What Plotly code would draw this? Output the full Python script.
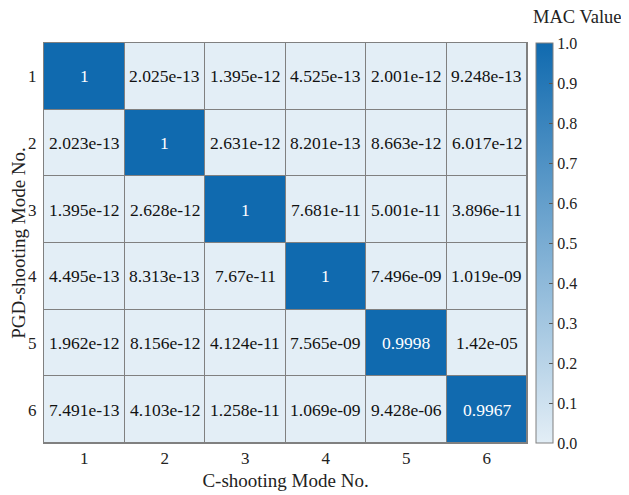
import plotly.graph_objects as go

modes = [1, 2, 3, 4, 5, 6]
mac_values = [
    [1, 2.025e-13, 1.395e-12, 4.525e-13, 2.001e-12, 9.248e-13],
    [2.023e-13, 1, 2.631e-12, 8.201e-13, 8.663e-12, 6.017e-12],
    [1.395e-12, 2.628e-12, 1, 7.681e-11, 5.001e-11, 3.896e-11],
    [4.495e-13, 8.313e-13, 7.67e-11, 1, 7.496e-09, 1.019e-09],
    [1.962e-12, 8.156e-12, 4.124e-11, 7.565e-09, 0.9998, 1.42e-05],
    [7.491e-13, 4.103e-12, 1.258e-11, 1.069e-09, 9.428e-06, 0.9967],
]
cell_labels = [
    ["1", "2.025e-13", "1.395e-12", "4.525e-13", "2.001e-12", "9.248e-13"],
    ["2.023e-13", "1", "2.631e-12", "8.201e-13", "8.663e-12", "6.017e-12"],
    ["1.395e-12", "2.628e-12", "1", "7.681e-11", "5.001e-11", "3.896e-11"],
    ["4.495e-13", "8.313e-13", "7.67e-11", "1", "7.496e-09", "1.019e-09"],
    ["1.962e-12", "8.156e-12", "4.124e-11", "7.565e-09", "0.9998", "1.42e-05"],
    ["7.491e-13", "4.103e-12", "1.258e-11", "1.069e-09", "9.428e-06", "0.9967"],
]
cbar_ticks = [0, 0.1, 0.2, 0.3, 0.4, 0.5, 0.6, 0.7, 0.8, 0.9, 1.0]
cbar_ticktext = ["0.0", "0.1", "0.2", "0.3", "0.4", "0.5", "0.6", "0.7", "0.8", "0.9", "1.0"]

FONT = "Liberation Serif, Times New Roman, serif"

fig = go.Figure()
fig.add_trace(go.Heatmap(
    z=mac_values, x=modes, y=modes,
    zmin=0, zmax=1,
    colorscale=[[0, "rgb(227,238,246)"], [1, "rgb(16,106,175)"]],
    xgap=1, ygap=1,
    showscale=True,
    hoverinfo="skip",
    colorbar=dict(
        x=1.0186, xanchor="left", xref="paper",
        y=0, yanchor="bottom", len=1, lenmode="fraction",
        thickness=17, thicknessmode="pixels",
        outlinecolor="#808080", outlinewidth=1,
        tickmode="array", tickvals=cbar_ticks, ticktext=cbar_ticktext,
        ticks="inside", ticklen=4, tickcolor="#555",
        tickfont=dict(family=FONT, size=16, color="#222"),
        ypad=0, xpad=0,
    ),
))

annotations = []
for i, row in enumerate(cell_labels):
    for j, txt in enumerate(row):
        annotations.append(dict(
            x=modes[j], y=modes[i], xref="x", yref="y", text=txt, showarrow=False,
            font=dict(family=FONT, size=17.5,
                      color="white" if mac_values[i][j] > 0.5 else "#111"),
        ))
annotations.append(dict(
    x=1.105, y=1.065, xref="paper", yref="paper", text="MAC Value",
    showarrow=False, xanchor="center", yanchor="middle",
    font=dict(family=FONT, size=18.5, color="#222"),
))

fig.update_layout(
    width=621, height=487,
    margin=dict(l=36, r=102, t=35, b=52, autoexpand=False),
    paper_bgcolor="white",
    plot_bgcolor="#808080",
    annotations=annotations,
    font=dict(family=FONT, color="#222"),
    xaxis=dict(
        title=dict(text="C-shooting Mode No.", font=dict(family=FONT, size=19), standoff=6),
        tickfont=dict(family=FONT, size=17),
        tickmode="array", tickvals=modes,
        range=[0.5, 6.5], automargin=False,
        showgrid=False, zeroline=False,
        showline=True, linecolor="#808080", linewidth=1, mirror=True,
        ticks="", ticklen=0,
    ),
    yaxis=dict(
        title=dict(text="PGD-shooting Mode No.", font=dict(family=FONT, size=19), standoff=4),
        tickfont=dict(family=FONT, size=17),
        tickmode="array", tickvals=modes,
        range=[6.5, 0.5], automargin=False,
        showgrid=False, zeroline=False,
        showline=True, linecolor="#808080", linewidth=1, mirror=True,
        ticks="", ticklen=0, ticklabelstandoff=3,
    ),
)

fig.write_html("out.html")
